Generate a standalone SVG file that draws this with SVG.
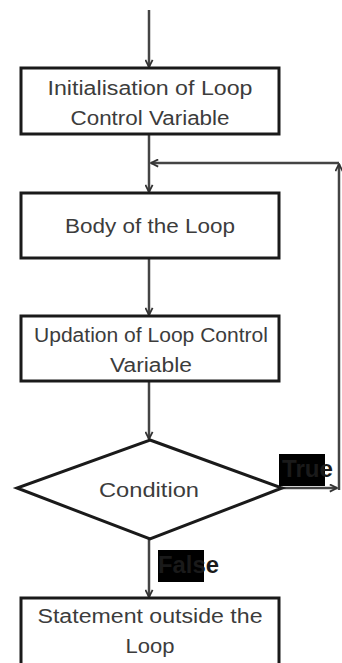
<svg xmlns="http://www.w3.org/2000/svg" width="342" height="663" viewBox="0 0 342 663">
<defs>
<marker id="ah" viewBox="0 0 10 10" refX="9" refY="5" markerWidth="9" markerHeight="9" markerUnits="userSpaceOnUse" orient="auto">
<path d="M1,1 L9,5 L1,9" fill="none" stroke="#333" stroke-width="2"/>
</marker>
<style>
.box{fill:#fff;stroke:#1a1a1a;stroke-width:3}
.t{font-family:"Liberation Sans",Arial,sans-serif;font-size:20px;fill:#3c3c3c;text-anchor:middle}
.c{stroke:#444;stroke-width:2.5;fill:none}
.lb{font-family:"Liberation Sans",Arial,sans-serif;font-size:23px;font-weight:bold}
</style>
</defs>
<rect width="342" height="663" fill="#fff"/>
<g id="connectors">
<line class="c" x1="149" y1="10" x2="149" y2="67" marker-end="url(#ah)"/>
<line class="c" x1="149" y1="135" x2="149" y2="192" marker-end="url(#ah)"/>
<line class="c" x1="149" y1="258" x2="149" y2="315" marker-end="url(#ah)"/>
<line class="c" x1="149" y1="381" x2="149" y2="439" marker-end="url(#ah)"/>
<line class="c" x1="149" y1="539" x2="149" y2="597" marker-end="url(#ah)"/>
<line class="c" x1="282" y1="488" x2="337" y2="488" marker-end="url(#ah)"/>
<line class="c" x1="339" y1="490" x2="339" y2="164" marker-end="url(#ah)"/>
<line class="c" x1="339" y1="163" x2="151" y2="163" marker-end="url(#ah)"/>
</g>
<g id="init">
<rect class="box" x="21" y="68" width="258" height="66"/>
<text class="t" x="150" y="95" textLength="205" lengthAdjust="spacingAndGlyphs">Initialisation of Loop</text>
<text class="t" x="150" y="125" textLength="159" lengthAdjust="spacingAndGlyphs">Control Variable</text>
</g>
<g id="body">
<rect class="box" x="21" y="193" width="258" height="65"/>
<text class="t" x="150" y="233" textLength="170" lengthAdjust="spacingAndGlyphs">Body of the Loop</text>
</g>
<g id="update">
<rect class="box" x="21" y="316" width="258" height="65"/>
<text class="t" x="151" y="342" textLength="234" lengthAdjust="spacingAndGlyphs">Updation of Loop Control</text>
<text class="t" x="151" y="372" textLength="82" lengthAdjust="spacingAndGlyphs">Variable</text>
</g>
<g id="condition">
<polygon points="150,440 282,488 150,539 17,488" fill="#fff" stroke="#1a1a1a" stroke-width="3"/>
<text class="t" x="149" y="497" textLength="100" lengthAdjust="spacingAndGlyphs">Condition</text>
</g>
<g id="true-label">
<rect x="279" y="454" width="46" height="32" fill="#000"/>
<text class="lb" x="282" y="477" textLength="51" lengthAdjust="spacingAndGlyphs" fill="#1a1a1a">Tru<tspan fill="#1a1a1a">e</tspan></text>
</g>
<g id="false-label">
<rect x="158" y="550" width="46" height="32" fill="#000"/>
<text class="lb" x="158" y="573" textLength="61" lengthAdjust="spacingAndGlyphs" fill="#1a1a1a">False</text>
</g>
<g id="outside">
<rect class="box" x="21" y="598" width="258" height="70"/>
<text class="t" x="150" y="623" textLength="225" lengthAdjust="spacingAndGlyphs">Statement outside the</text>
<text class="t" x="150" y="653" textLength="49" lengthAdjust="spacingAndGlyphs">Loop</text>
</g>
</svg>
